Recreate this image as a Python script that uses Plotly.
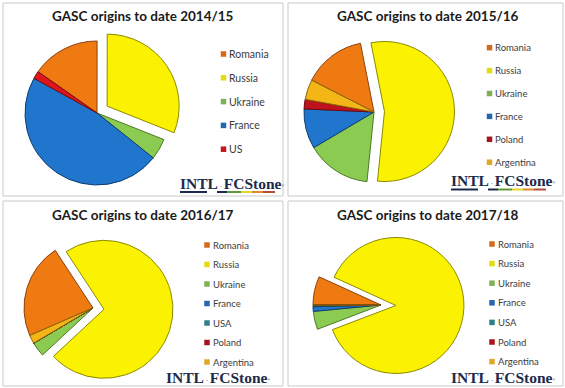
import plotly.graph_objects as go

W, H = 565, 388

# ---------------- data ----------------
titles = ["GASC origins to date 2014/15", "GASC origins to date 2015/16",
          "GASC origins to date 2016/17", "GASC origins to date 2017/18"]

labels_1415 = ["Romania", "Russia", "Ukraine", "France", "US"]
values_1415 = [15.3, 31.0, 4.7, 47.3, 1.7]

labels_1516 = ["Romania", "Russia", "Ukraine", "France", "Poland", "Argentina"]
values_1516 = [14.4, 54.7, 14.9, 9.2, 2.2, 4.6]

labels_1617 = ["Romania", "Russia", "Ukraine", "France", "USA", "Poland", "Argentina"]
values_1617 = [22.3, 72.3, 3.4, 0, 0, 0, 2.0]

labels_1718 = ["Romania", "Russia", "Ukraine", "France", "USA", "Poland", "Argentina"]
values_1718 = [6.8, 87.4, 4.3, 1.1, 0.4, 0, 0]

# ---------------- styles ----------------
fill = {"Romania": "#F07A12", "Russia": "#FAF200", "Ukraine": "#8CCB52",
        "France": "#1F76CC", "US": "#DE151C", "USA": "#2A8C9C",
        "Poland": "#C0121C", "Argentina": "#F4B616"}
edge = {"Romania": "#8A4210", "Russia": "#8C8A00", "Ukraine": "#4C7A26",
        "France": "#0E3C70", "US": "#7A0A0E", "USA": "#14474F",
        "Poland": "#6E0A10", "Argentina": "#8A6406"}
swatch = {"Romania": "#D26A1E", "Russia": "#E2DC10", "Ukraine": "#7FB055",
          "France": "#2467AE", "US": "#C0161E", "USA": "#2E7F8A",
          "Poland": "#A8141E", "Argentina": "#E0A828"}

def px(x):
    return x / W

def py(y):
    return 1 - y / H

panels = [
    dict(labels=labels_1415, values=values_1415, rot=-55, cx=97, cy=113, r=72, pull=0.17,
         box=(3, 3, 283, 196), tx=143, ty=16,
         leg=(223.5, 54, 23.8, 10.5), logo=(179, 188)),
    dict(labels=labels_1516, values=values_1516, rot=-63, cx=374, cy=112, r=70, pull=0.15,
         box=(288, 3, 563, 196), tx=428, ty=16,
         leg=(489.5, 47.7, 22.9, 9.5), logo=(450, 185.5)),
    dict(labels=labels_1617, values=values_1617, rot=-113.5, cx=93, cy=308, r=69, pull=0.16,
         box=(3, 201, 283, 386), tx=143, ty=215,
         leg=(207, 245, 19.5, 9.5), logo=(165, 382)),
    dict(labels=labels_1718, values=values_1718, rot=-90, cx=381, cy=305, r=68, pull=0.22,
         box=(288, 201, 563, 386), tx=428, ty=215,
         leg=(492, 244, 19.6, 9.5), logo=(450, 382)),
]

fig = go.Figure()
shapes = []
annotations = []

for i, p in enumerate(panels):
    h = p["r"] * (1 + p["pull"])
    x0 = max(0, px(p["cx"] - h)); x1 = min(1, px(p["cx"] + h))
    y0 = max(0, py(p["cy"] + h)); y1 = min(1, py(p["cy"] - h))
    pulls = [p["pull"] if lab == "Russia" else 0 for lab in p["labels"]]
    fig.add_trace(go.Pie(
        labels=p["labels"], values=p["values"], sort=False, direction="clockwise",
        rotation=p["rot"], pull=pulls, textinfo="none", showlegend=False,
        domain=dict(x=[x0, x1], y=[y0, y1]),
        marker=dict(colors=[fill[l] for l in p["labels"]],
                    line=dict(color=[edge[l] for l in p["labels"]], width=1)),
        hovertemplate="%{label}: %{percent}<extra></extra>",
        name=titles[i],
    ))
    bx0, by0, bx1, by1 = p["box"]
    shapes.append(dict(type="rect", xref="paper", yref="paper",
                       x0=px(bx0), x1=px(bx1), y0=py(by1), y1=py(by0),
                       line=dict(color="#C9C9C9", width=1), layer="below"))
    annotations.append(dict(text="<b>" + titles[i] + "</b>", x=px(p["tx"]), y=py(p["ty"]),
                            xref="paper", yref="paper", xanchor="center", yanchor="middle",
                            showarrow=False, borderpad=0,
                            font=dict(family="Lato", size=13.5, color="#1A1A1A")))
    # legend
    lx, ly, ldy, lfs = p["leg"]
    sw = 5.5
    for k, lab in enumerate(p["labels"]):
        yy = ly + k * ldy
        shapes.append(dict(type="rect", xref="paper", yref="paper",
                           x0=px(lx - sw / 2), x1=px(lx + sw / 2),
                           y0=py(yy + sw / 2), y1=py(yy - sw / 2),
                           fillcolor=swatch[lab], line=dict(width=0)))
        annotations.append(dict(text=lab, x=px(lx + sw / 2 + 2), y=py(yy),
                                xref="paper", yref="paper", xanchor="left", yanchor="middle",
                                showarrow=False, borderpad=0,
                                font=dict(family="Lato", size=lfs, color="#3C3C3C")))
    # logo
    gx, gy = p["logo"]
    annotations.append(dict(
        text="<b>INTL</b><span style='font-size:7px'> \u00b7 </span><b>FCStone</b>"
             "<span style='font-size:5px'><sup>\u00ae</sup></span>",
        x=px(gx), y=py(gy - 5), xref="paper", yref="paper",
        xanchor="left", yanchor="middle", showarrow=False, borderpad=0,
        font=dict(family="Liberation Serif", size=15.5, color="#1C2A4C")))
    uy = gy + 4
    if uy < by1 - 1:
        segs = [(1, 28, "#1C2A4C"), (38, 48, "#1C2A4C"), (48, 62, "#5E9A3A"),
                (62, 73, "#E6D42A"), (73, 84, "#E08A30"), (84, 96, "#B0503A")]
        for a, b, c in segs:
            shapes.append(dict(type="line", xref="paper", yref="paper",
                               x0=px(gx + a), x1=px(gx + b), y0=py(uy), y1=py(uy),
                               line=dict(color=c, width=2)))

fig.update_layout(
    width=W, height=H, autosize=False,
    margin=dict(l=0, r=0, t=0, b=0),
    paper_bgcolor="white", plot_bgcolor="white",
    shapes=shapes, annotations=annotations,
    showlegend=False,
)

fig.write_html("out.html", config={"displayModeBar": False},
               post_script="document.body.style.margin='0px';")
